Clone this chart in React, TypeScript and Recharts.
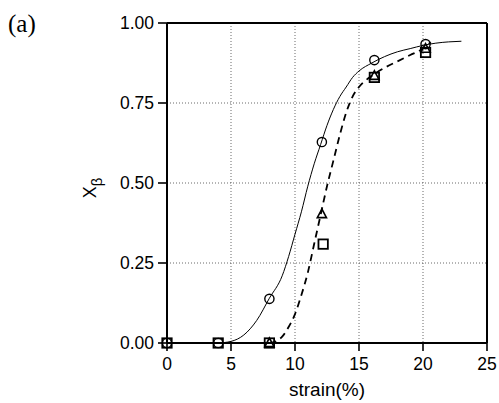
import React from "react";
import {
  ComposedChart,
  Line,
  Scatter,
  XAxis,
  YAxis,
  CartesianGrid,
  ReferenceLine,
  Label,
} from "recharts";

const xTicks = [0, 5, 10, 15, 20, 25];
const yTicks = [0, 0.25, 0.5, 0.75, 1];

const circleX = [0, 4, 8, 12.1, 16.2, 20.2];
const circleY = [0, 0, 0.138, 0.628, 0.884, 0.934];

const triangleX = [8, 12.1, 16.2, 20.2];
const triangleY = [0, 0.403, 0.835, 0.92];

const squareX = [0, 4, 8, 12.2, 16.2, 20.2];
const squareY = [0, 0, 0, 0.309, 0.83, 0.908];

const solidX = [4, 5, 6, 7, 8, 9, 9.5, 10, 10.5, 11, 11.5, 12, 12.5, 13, 13.5, 14, 14.5, 15, 16, 17, 18, 19, 20, 21, 22, 23];
const solidY = [0, 0.005, 0.025, 0.07, 0.14, 0.21, 0.27, 0.34, 0.41, 0.49, 0.56, 0.62, 0.68, 0.73, 0.77, 0.8, 0.83, 0.85, 0.875, 0.895, 0.91, 0.92, 0.93, 0.937, 0.941, 0.943];

const dashedX = [8, 8.5, 9, 9.5, 10, 10.5, 11, 11.5, 12, 12.5, 13, 13.5, 14, 14.5, 15, 15.5, 16, 17, 18, 19, 20, 20.6];
const dashedY = [0, 0.005, 0.02, 0.05, 0.09, 0.15, 0.22, 0.31, 0.4, 0.49, 0.57, 0.65, 0.72, 0.77, 0.8, 0.82, 0.835, 0.86, 0.88, 0.9, 0.92, 0.94];

const zip = (xs: number[], ys: number[]) => xs.map((x, i) => ({ x, y: ys[i] }));

const circles = zip(circleX, circleY);
const triangles = zip(triangleX, triangleY);
const squares = zip(squareX, squareY);
const solid = zip(solidX, solidY);
const dashed = zip(dashedX, dashedY);

const FONT = "'Liberation Sans', Arial, Helvetica, sans-serif";

const CircleShape = (p: any) => (
  <circle cx={p.cx} cy={p.cy} r={4.6} fill="none" stroke="#000" strokeWidth={1.4} />
);
const SquareShape = (p: any) => (
  <rect x={p.cx - 4.7} y={p.cy - 4.7} width={9.4} height={9.4} fill="none" stroke="#000" strokeWidth={1.8} />
);
const TriangleShape = (p: any) => (
  <polygon
    points={`${p.cx},${p.cy - 5} ${p.cx - 4.6},${p.cy + 3.6} ${p.cx + 4.6},${p.cy + 3.6}`}
    fill="none"
    stroke="#000"
    strokeWidth={1.6}
  />
);

const YLabel = () => {
  const cx = 90;
  const cy = 188;
  return (
    <text
      x={cx}
      y={cy}
      transform={`rotate(-90, ${cx}, ${cy})`}
      textAnchor="middle"
      dominantBaseline="central"
      fontFamily={FONT}
      fontSize={18}
      fill="#000"
    >
      X
      <tspan fontSize={15} dy={6}>β</tspan>
    </text>
  );
};

export default function App() {
  return (
    <div style={{ position: "absolute", left: 0, top: 0, width: 499, height: 403, background: "#fff" }}>
      <svg width={60} height={50} style={{ position: "absolute", left: 0, top: 0 }}>
        <text
          x={8}
          y={32}
          fontFamily="'Liberation Serif', 'Times New Roman', serif"
          fontSize={25}
          fill="#000"
        >
          (a)
        </text>
      </svg>
      <ComposedChart
        width={499}
        height={403}
        margin={{ top: 23, right: 12, left: 0, bottom: 0 }}
        style={{ position: "absolute", left: 0, top: 0 }}
      >
        <CartesianGrid stroke="#444" strokeDasharray="1 2" strokeWidth={0.8} />
        <XAxis
          type="number"
          dataKey="x"
          domain={[0, 25]}
          ticks={xTicks}
          height={60}
          tickSize={8}
          tickMargin={7}
          axisLine={{ stroke: "#000", strokeWidth: 2 }}
          tickLine={{ stroke: "#000", strokeWidth: 1.6 }}
          tick={{ fill: "#000", fontSize: 17.5, fontFamily: FONT }}
        >
          <Label
            value="strain(%)"
            position="insideBottom"
            offset={7}
            style={{ fill: "#000", fontSize: 19, fontFamily: FONT }}
          />
        </XAxis>
        <YAxis
          type="number"
          dataKey="y"
          domain={[0, 1]}
          ticks={yTicks}
          width={167}
          tickSize={9}
          tickMargin={4}
          tickFormatter={(v: number) => v.toFixed(2)}
          axisLine={{ stroke: "#000", strokeWidth: 2 }}
          tickLine={{ stroke: "#000", strokeWidth: 1.6 }}
          tick={{ fill: "#000", fontSize: 17.5, fontFamily: FONT }}
        >
          <Label content={<YLabel />} />
        </YAxis>
        <ReferenceLine y={1} stroke="#000" strokeWidth={2} />
        <ReferenceLine x={25} stroke="#000" strokeWidth={2} />
        <Line
          data={solid}
          dataKey="y"
          type="monotone"
          stroke="#000"
          strokeWidth={1}
          dot={false}
          isAnimationActive={false}
        />
        <Line
          data={dashed}
          dataKey="y"
          type="monotone"
          stroke="#000"
          strokeWidth={1.8}
          strokeDasharray="7 5"
          dot={false}
          isAnimationActive={false}
        />
        <Scatter data={squares} dataKey="y" shape={<SquareShape />} isAnimationActive={false} />
        <Scatter data={triangles} dataKey="y" shape={<TriangleShape />} isAnimationActive={false} />
        <Scatter data={circles} dataKey="y" shape={<CircleShape />} isAnimationActive={false} />
      </ComposedChart>
    </div>
  );
}
